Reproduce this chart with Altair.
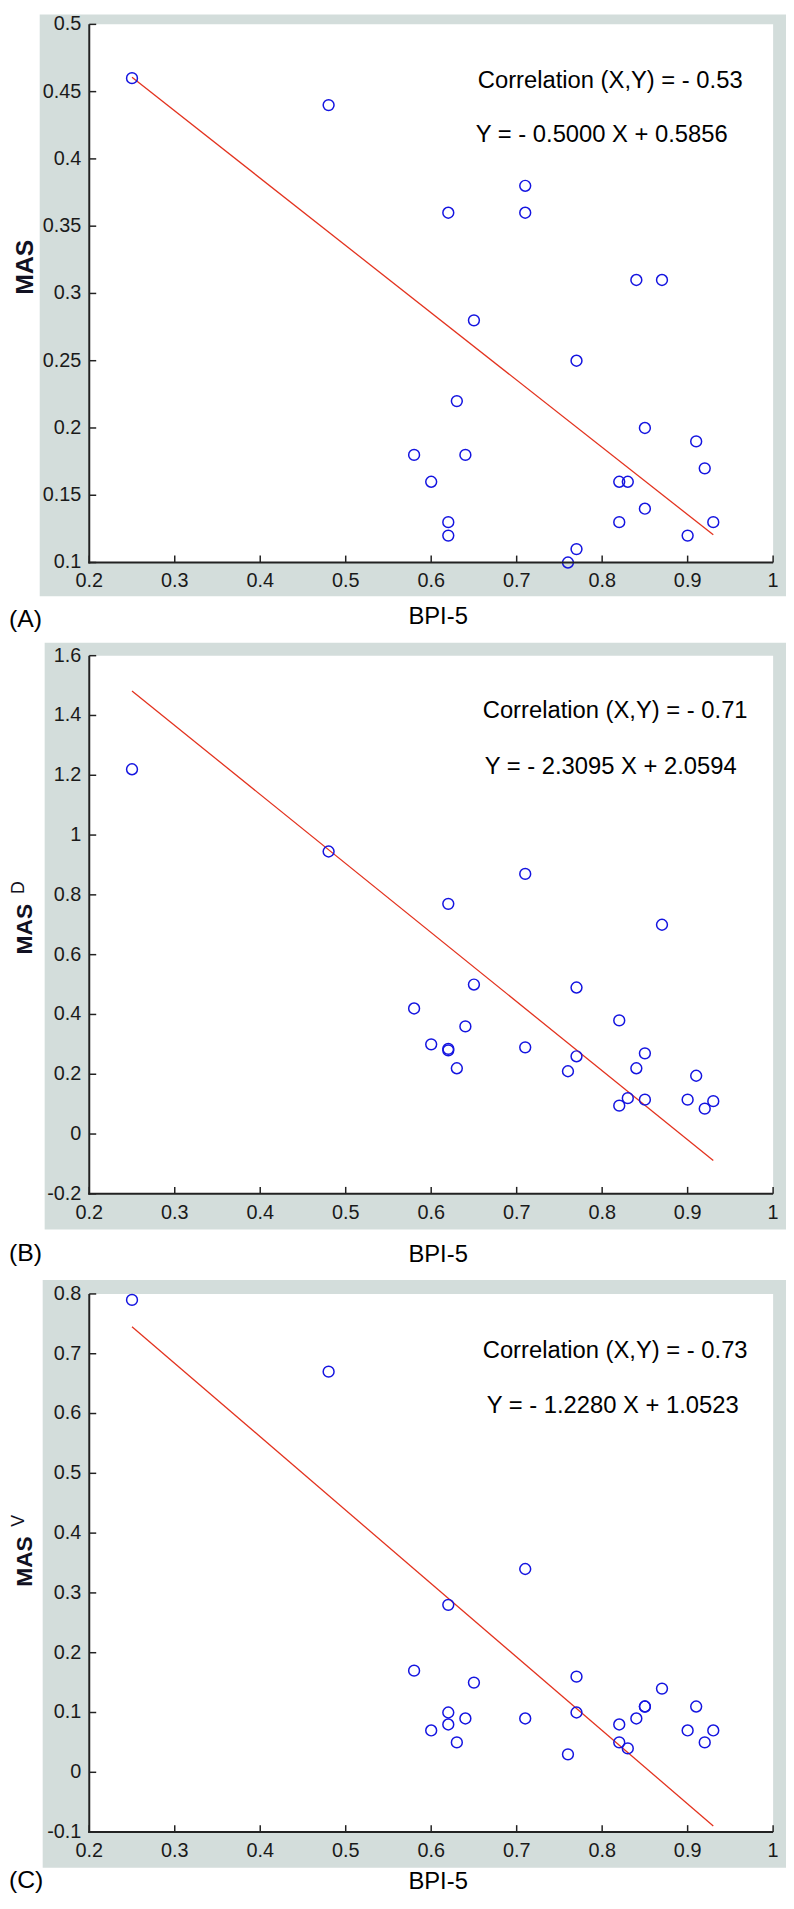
import altair as alt
import pandas as pd

# ---------------- data ----------------
bpi5 = [0.25, 0.48, 0.58, 0.60, 0.62, 0.62, 0.62, 0.63, 0.64, 0.65, 0.71, 0.71, 0.76,
        0.77, 0.77, 0.82, 0.82, 0.83, 0.84, 0.85, 0.85, 0.87, 0.90, 0.91, 0.92, 0.93]
mas = [0.46, 0.44, 0.18, 0.16, 0.36, 0.13, 0.12, 0.22, 0.18, 0.28, 0.38, 0.36, 0.10,
       0.25, 0.11, 0.16, 0.13, 0.16, 0.31, 0.20, 0.14, 0.31, 0.12, 0.19, 0.17, 0.13]
mas_d = [1.22, 0.945, 0.42, 0.30, 0.77, 0.285, 0.28, 0.22, 0.36, 0.50, 0.87, 0.29, 0.21,
         0.49, 0.26, 0.38, 0.095, 0.12, 0.22, 0.27, 0.115, 0.70, 0.115, 0.195, 0.085, 0.11]
mas_v = [0.79, 0.67, 0.17, 0.07, 0.28, 0.10, 0.08, 0.05, 0.09, 0.15, 0.34, 0.09, 0.03,
         0.16, 0.10, 0.08, 0.05, 0.04, 0.09, 0.11, 0.11, 0.14, 0.07, 0.11, 0.05, 0.07]

x_ticks = [0.2, 0.3, 0.4, 0.5, 0.6, 0.7, 0.8, 0.9, 1.0]
y_ticks_a = [0.1, 0.15, 0.2, 0.25, 0.3, 0.35, 0.4, 0.45, 0.5]
y_ticks_b = [-0.2, 0.0, 0.2, 0.4, 0.6, 0.8, 1.0, 1.2, 1.4, 1.6]
y_ticks_c = [-0.1, 0.0, 0.1, 0.2, 0.3, 0.4, 0.5, 0.6, 0.7, 0.8]

slopes = [-0.5000, -2.3095, -1.2280]
intercepts = [0.5856, 2.0594, 1.0523]
correlations = [-0.53, -0.71, -0.73]
panel_letters = ["(A)", "(B)", "(C)"]
x_title = "BPI-5"
y_title = "MAS"
y_sups = ["", "D", "V"]

# ---------------- style ----------------
FONT = "Liberation Sans"
GRAY = "#d3dddb"
BLUE = "#1414e0"
RED = "#e3321e"
AXC = "#222222"
LBL = "#1a1a1a"
W, H = 690, 543
RIGHT = 703


def one(txt):
    return alt.Chart(pd.DataFrame({"t": [txt]}))


def fmt(v):
    return f"{v:g}"


def panel(i, y_vals, ydom, yticks, geom):
    xs = alt.Scale(domain=[0.2, 1.0], nice=False, zero=False)
    ys = alt.Scale(domain=ydom, nice=False, zero=False)

    frame = one("f").mark_rect(color=GRAY).encode(
        x=alt.value(geom["gx0"]), x2=alt.value(RIGHT),
        y=alt.value(geom["gy0"]), y2=alt.value(geom["gy1"]))
    white = one("w").mark_rect(color="white").encode(
        x=alt.value(0), x2=alt.value(W), y=alt.value(0), y2=alt.value(H))

    ydf = pd.DataFrame({"v": yticks, "s": [fmt(v) for v in yticks]})
    xdf = pd.DataFrame({"v": x_ticks, "s": [fmt(v) for v in x_ticks]})

    ytk = alt.Chart(ydf).mark_rule(color=AXC, strokeWidth=1.5).encode(
        y=alt.Y("v:Q", scale=ys, axis=None), x=alt.value(0), x2=alt.value(7))
    xtk = alt.Chart(xdf).mark_rule(color=AXC, strokeWidth=1.5).encode(
        x=alt.X("v:Q", scale=xs, axis=None), y=alt.value(H), y2=alt.value(H - 7))
    ylab = alt.Chart(ydf).mark_text(align="right", baseline="middle", font=FONT,
                                    fontSize=20, color=LBL).encode(
        y=alt.Y("v:Q", scale=ys, axis=None), x=alt.value(-8), text="s:N")
    xlab = alt.Chart(xdf).mark_text(align="center", baseline="top", font=FONT,
                                    fontSize=20, color=LBL).encode(
        x=alt.X("v:Q", scale=xs, axis=None), y=alt.value(H + 9), text="s:N")
    ydom = one("yd").mark_rule(color=AXC, strokeWidth=2).encode(
        x=alt.value(0), y=alt.value(0), y2=alt.value(H + 1))
    xdom = one("xd").mark_rule(color=AXC, strokeWidth=2).encode(
        x=alt.value(-1), x2=alt.value(W), y=alt.value(H))

    lx = [min(bpi5), max(bpi5)]
    line_df = pd.DataFrame({"x": lx, "y": [slopes[i] * v + intercepts[i] for v in lx]})
    line = alt.Chart(line_df).mark_line(color=RED, strokeWidth=1.3).encode(
        x=alt.X("x:Q", scale=xs, axis=None), y=alt.Y("y:Q", scale=ys, axis=None))

    pts = alt.Chart(pd.DataFrame({"x": bpi5, "y": y_vals})).mark_point(
        shape="circle", filled=False, size=120, color=BLUE, strokeWidth=1.5, opacity=1
    ).encode(
        x=alt.X("x:Q", scale=xs, axis=None),
        y=alt.Y("y:Q", scale=ys, axis=None),
    )

    corr_txt = f"Correlation (X,Y) = - {abs(correlations[i]):.2f}"
    eq_txt = f"Y = - {abs(slopes[i]):.4f} X + {intercepts[i]:.4f}"
    t1 = one(corr_txt).mark_text(align="left", baseline="middle", font=FONT, fontSize=24,
                                 color="black").encode(
        text="t:N", x=alt.value(geom["tx"]), y=alt.value(geom["ty1"]))
    t2 = one(eq_txt).mark_text(align="left", baseline="middle", font=FONT, fontSize=24,
                               color="black").encode(
        text="t:N", x=alt.value(geom["tx2"]), y=alt.value(geom["ty2"]))
    letter = one(panel_letters[i]).mark_text(align="left", baseline="middle", font=FONT,
                                             fontSize=25, color="black").encode(
        text="t:N", x=alt.value(-81), y=alt.value(geom["ly"]))
    xt = one(x_title).mark_text(align="center", baseline="middle", font=FONT, fontSize=24,
                                color="black").encode(
        text="t:N", x=alt.value(352), y=alt.value(geom["xty"]))
    yt = one(y_title).mark_text(align="center", baseline="middle", font=FONT, fontSize=geom["yfs"],
                                fontWeight="bold", angle=270, color="#111122").encode(
        text="t:N", x=alt.value(-65), y=alt.value(geom["yty"]))
    layers = [frame, white, ytk, xtk, line, pts, ydom, xdom, ylab, xlab, t1, t2, letter, xt, yt]
    if y_sups[i]:
        sup = one(y_sups[i]).mark_text(align="center", baseline="middle", font=FONT,
                                       fontSize=18, angle=270, color="#111122").encode(
            text="t:N", x=alt.value(-71), y=alt.value(geom["syy"]))
        layers.append(sup)
    if i == 0:
        anchor = one("a").mark_rect(opacity=0).encode(
            x=alt.value(-82), x2=alt.value(-81), y=alt.value(-10), y2=alt.value(-9))
        layers.append(anchor)
    return alt.layer(*layers).properties(width=W, height=H)


pa = panel(0, mas, [0.1, 0.5], y_ticks_a,
           dict(gx0=-50, gy0=-10, gy1=577, tx=392, ty1=57, tx2=390, ty2=112,
                ly=600, xty=598, yfs=25, yty=245))
pb = panel(1, mas_d, [-0.2, 1.6], y_ticks_b,
           dict(gx0=-45, gy0=-13, gy1=579, tx=397, ty1=56, tx2=399, ty2=112,
                ly=603, xty=605, yfs=23, yty=276, syy=234))
pc = panel(2, mas_v, [-0.1, 0.8], y_ticks_c,
           dict(gx0=-47, gy0=-14, gy1=579, tx=397, ty1=58, tx2=401, ty2=113,
                ly=591, xty=593, yfs=23, yty=270, syy=229))

chart = alt.vconcat(
    pa,
    alt.vconcat(pb, pc, spacing=101, bounds="flush"),
    spacing=94, bounds="flush",
).properties(padding={"top": -2, "left": 0, "right": 0, "bottom": -3},
             background="white").configure_view(strokeWidth=0)

chart.save("out.html", embed_options={"renderer": "svg", "actions": False})
